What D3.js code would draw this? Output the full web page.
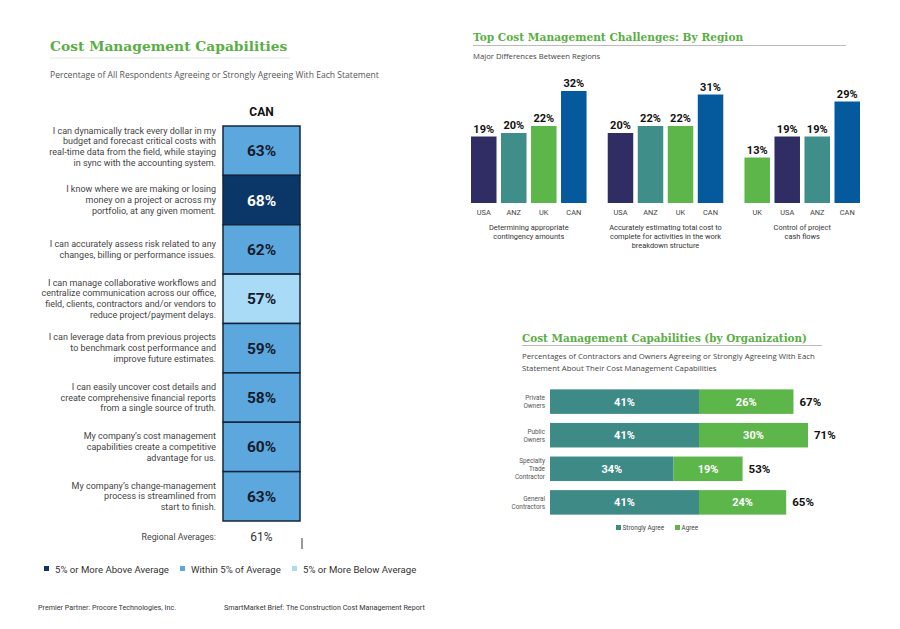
<!DOCTYPE html>
<html>
<head>
<meta charset="utf-8">
<script src="https://cdn.jsdelivr.net/npm/d3@7"></script>
<style>
  body { margin: 0; background: #fff; }
  svg { display: block; font-family: Roboto, "Open Sans", sans-serif; }
</style>
</head>
<body>
<svg id="chart" width="900" height="629"></svg>
<script>
// ---- data ----
var statements = [
  ["I can dynamically track every dollar in my", "budget and forecast critical costs with", "real-time data from the field, while staying", "in sync with the accounting system."],
  ["I know where we are making or losing", "money on a project or across my", "portfolio, at any given moment."],
  ["I can accurately assess risk related to any", "changes, billing or performance issues."],
  ["I can manage collaborative workflows and", "centralize communication across our office,", "field, clients, contractors and/or vendors to", "reduce project/payment delays."],
  ["I can leverage data from previous projects", "to benchmark cost performance and", "improve future estimates."],
  ["I can easily uncover cost details and", "create comprehensive financial reports", "from a single source of truth."],
  ["My company\u2019s cost management", "capabilities create a competitive", "advantage for us."],
  ["My company\u2019s change-management", "process is streamlined from", "start to finish."]
];
var canValues = [63, 68, 62, 57, 59, 58, 60, 63];
var canAverage = 61;
var legendLabels = ["5% or More Above Average", "Within 5% of Average", "5% or More Below Average"];

var challengeNames = [
  ["Determining appropriate", "contingency amounts"],
  ["Accurately estimating total cost to", "complete for activities in the work", "breakdown structure"],
  ["Control of project", "cash flows"]
];
var challengeRegions = [
  ["USA", "ANZ", "UK", "CAN"],
  ["USA", "ANZ", "UK", "CAN"],
  ["UK", "USA", "ANZ", "CAN"]
];
var challengeValues = [
  [19, 20, 22, 32],
  [20, 22, 22, 31],
  [13, 19, 19, 29]
];

var orgNames = [["Private", "Owners"], ["Public", "Owners"], ["Specialty", "Trade", "Contractor"], ["General", "Contractors"]];
var stronglyAgree = [41, 41, 34, 41];
var agree = [26, 30, 19, 24];
var orgSeries = ["Strongly Agree", "Agree"];

// ---- colours ----
var green = "#5aae45";
var regionColor = { USA: "#2f2d63", ANZ: "#3f8e8a", UK: "#5db64a", CAN: "#045a9c" };
var cellColor = { above: "#0b3768", within: "#5ca8de", below: "#a9daf6" };

var svg = d3.select("#chart");

function multiline(sel, lines, x, y, lh) {
  lines.forEach(function (l, i) {
    sel.append("tspan").attr("x", x).attr("y", y + i * lh).text(l);
  });
}

// ================= LEFT: capabilities table =================
svg.append("text").attr("x", 50).attr("y", 51)
  .style("font-family", "'DejaVu Serif', serif").style("font-weight", "bold")
  .style("font-size", "13.8px").style("fill", green)
  .text("Cost Management Capabilities");
svg.append("line").attr("x1", 50).attr("x2", 290).attr("y1", 58).attr("y2", 58)
  .style("stroke", "#ddd").style("stroke-width", 0.8);
svg.append("text").attr("x", 50).attr("y", 78)
  .style("font-family", "'Open Sans', sans-serif")
  .style("font-size", "8.6px").style("fill", "#555")
  .text("Percentage of All Respondents Agreeing or Strongly Agreeing With Each Statement");

var y = d3.scaleBand().domain(d3.range(canValues.length)).range([126, 521]);
var cellX = 223, cellW = 77;

svg.append("text").attr("x", cellX + cellW / 2).attr("y", 116)
  .attr("text-anchor", "middle").style("font-weight", "bold")
  .style("font-size", "12px").style("fill", "#111").text("CAN");

function level(v) {
  var r = v / canAverage;
  if (r >= 1.05) return "above";
  if (r <= 0.95) return "below";
  return "within";
}

var rows = svg.append("g").selectAll("g").data(canValues).enter().append("g");
rows.append("rect")
  .attr("x", cellX).attr("y", function (d, i) { return y(i); })
  .attr("width", cellW).attr("height", y.bandwidth())
  .style("fill", function (d) { return cellColor[level(d)]; })
  .style("stroke", "#13263d").style("stroke-width", 1.5);
rows.append("text")
  .attr("x", cellX + cellW / 2).attr("y", function (d, i) { return y(i) + y.bandwidth() / 2 + 5.5; })
  .attr("text-anchor", "middle").style("font-weight", "bold").style("font-size", "15.5px")
  .style("fill", function (d) { return level(d) === "above" ? "#fff" : "#151b2b"; })
  .text(function (d) { return d + "%"; });
rows.append("text")
  .attr("text-anchor", "end").style("font-size", "9px").style("fill", "#444")
  .each(function (d, i) {
    var lines = statements[i];
    var lh = 10.7;
    var y0 = y(i) + y.bandwidth() / 2 - (lines.length - 1) * lh / 2 + 3;
    if (i === 0) y0 -= 4;
    multiline(d3.select(this), lines, 216, y0, lh);
  });

svg.append("text").attr("x", 216).attr("y", 540).attr("text-anchor", "end")
  .style("font-size", "8.8px").style("fill", "#444").text("Regional Averages:");
svg.append("text").attr("x", cellX + cellW / 2).attr("y", 541).attr("text-anchor", "middle")
  .style("font-size", "12px").style("fill", "#333").text(canAverage + "%");
svg.append("line").attr("x1", 302).attr("x2", 302).attr("y1", 538).attr("y2", 549)
  .style("stroke", "#333").style("stroke-width", 1);

var legX = [44, 180, 292];
var lg = svg.append("g").selectAll("g").data(legendLabels).enter().append("g")
  .attr("transform", function (d, i) { return "translate(" + legX[i] + ",569)"; });
lg.append("rect").attr("x", 0).attr("y", -3).attr("width", 5).attr("height", 5)
  .style("fill", function (d, i) { return cellColor[["above", "within", "below"][i]]; });
lg.append("text").attr("x", 11).attr("y", 3.5).style("font-size", "9.6px").style("fill", "#333")
  .text(function (d) { return d; });

svg.append("text").attr("x", 38).attr("y", 610).style("font-size", "7.2px").style("fill", "#333")
  .text("Premier Partner: Procore Technologies, Inc.");
svg.append("text").attr("x", 224).attr("y", 610).style("font-size", "7.2px").style("fill", "#333")
  .text("SmartMarket Brief: The Construction Cost Management Report");

// ================= TOP RIGHT: challenges by region =================
svg.append("text").attr("x", 473).attr("y", 41)
  .style("font-family", "'DejaVu Serif', serif").style("font-weight", "bold")
  .style("font-size", "10.6px").style("fill", green)
  .text("Top Cost Management Challenges: By Region");
svg.append("line").attr("x1", 473).attr("x2", 846).attr("y1", 45.5).attr("y2", 45.5)
  .style("stroke", "#aaa").style("stroke-width", 0.8);
svg.append("text").attr("x", 473).attr("y", 59)
  .style("font-family", "'Open Sans', sans-serif").style("font-size", "7.7px").style("fill", "#444")
  .text("Major Differences Between Regions");

var gx = d3.scaleBand().domain(d3.range(challengeValues.length)).range([471, 860]).paddingInner(0.155);
var bx = d3.scaleBand().domain(d3.range(4)).range([0, gx.bandwidth()]).paddingInner(0.15);
var vy = d3.scaleLinear().domain([0, 32]).range([203, 91]);

var groups = svg.append("g").selectAll("g").data(challengeValues).enter().append("g")
  .attr("transform", function (d, i) { return "translate(" + gx(i) + ",0)"; });
groups.each(function (vals, gi) {
  var g = d3.select(this);
  g.selectAll("rect").data(vals).enter().append("rect")
    .attr("x", function (d, i) { return bx(i); })
    .attr("y", function (d) { return vy(d); })
    .attr("width", bx.bandwidth())
    .attr("height", function (d) { return vy(0) - vy(d); })
    .style("fill", function (d, i) { return regionColor[challengeRegions[gi][i]]; });
  g.selectAll("text.val").data(vals).enter().append("text").attr("class", "val")
    .attr("x", function (d, i) { return bx(i) + bx.bandwidth() / 2; })
    .attr("y", function (d) { return vy(d) - 4; })
    .attr("text-anchor", "middle").style("font-weight", "bold").style("font-size", "11px")
    .style("fill", "#111").text(function (d) { return d + "%"; });
  g.selectAll("text.cat").data(challengeRegions[gi]).enter().append("text").attr("class", "cat")
    .attr("x", function (d, i) { return bx(i) + bx.bandwidth() / 2; })
    .attr("y", 214.5).attr("text-anchor", "middle").style("font-size", "7.4px").style("fill", "#444")
    .text(function (d) { return d; });
  var cap = g.append("text").attr("text-anchor", "middle").style("font-size", "7.4px").style("fill", "#333");
  multiline(cap, challengeNames[gi], gx.bandwidth() / 2, 229.5, 9);
});

// ================= BOTTOM RIGHT: by organization =================
svg.append("text").attr("x", 522).attr("y", 342)
  .style("font-family", "'DejaVu Serif', serif").style("font-weight", "bold")
  .style("font-size", "10.4px").style("fill", green)
  .text("Cost Management Capabilities (by Organization)");
svg.append("line").attr("x1", 522).attr("x2", 822).attr("y1", 345.5).attr("y2", 345.5)
  .style("stroke", "#aaa").style("stroke-width", 0.8);
var sub = svg.append("text").style("font-family", "'Open Sans', sans-serif")
  .style("font-size", "7.8px").style("fill", "#444");
multiline(sub, ["Percentages of Contractors and Owners Agreeing or Strongly Agreeing With Each",
  "Statement About Their Cost Management Capabilities"], 522, 359, 11.5);

var ox = d3.scaleLinear().domain([0, 71]).range([550, 808]);
var oy = d3.scaleBand().domain(d3.range(orgNames.length)).range([386, 518]).paddingInner(0.27).paddingOuter(0.1);
var stack = d3.stack().keys([0, 1])(orgNames.map(function (n, i) { return [stronglyAgree[i], agree[i]]; }));
var orgColor = ["#3d8a86", "#5db64a"];

stack.forEach(function (layer, li) {
  var g = svg.append("g");
  g.selectAll("rect").data(layer).enter().append("rect")
    .attr("x", function (d) { return ox(d[0]); })
    .attr("y", function (d, i) { return oy(i); })
    .attr("width", function (d) { return ox(d[1]) - ox(d[0]); })
    .attr("height", oy.bandwidth())
    .style("fill", orgColor[li]);
  g.selectAll("text").data(layer).enter().append("text")
    .attr("x", function (d) { return (ox(d[0]) + ox(d[1])) / 2; })
    .attr("y", function (d, i) { return oy(i) + oy.bandwidth() / 2 + 4; })
    .attr("text-anchor", "middle").style("font-weight", "bold").style("font-size", "11px")
    .style("fill", "#fff").text(function (d) { return (d[1] - d[0]) + "%"; });
});
svg.append("g").selectAll("text").data(stack[1]).enter().append("text")
  .attr("x", function (d) { return ox(d[1]) + 6; })
  .attr("y", function (d, i) { return oy(i) + oy.bandwidth() / 2 + 4; })
  .style("font-weight", "bold").style("font-size", "11.5px").style("fill", "#111")
  .text(function (d) { return d[1] + "%"; });
svg.append("g").selectAll("text").data(orgNames).enter().append("text")
  .attr("text-anchor", "end").style("font-size", "6.4px").style("fill", "#555")
  .each(function (d, i) {
    var lh = 8;
    var y0 = oy(i) + oy.bandwidth() / 2 - (d.length - 1) * lh / 2 + 2.3;
    multiline(d3.select(this), d, 545, y0, lh);
  });

var olx = [616, 675];
var ol = svg.append("g").selectAll("g").data(orgSeries).enter().append("g")
  .attr("transform", function (d, i) { return "translate(" + olx[i] + ",528)"; });
ol.append("rect").attr("x", 0).attr("y", -3).attr("width", 5).attr("height", 5)
  .style("fill", function (d, i) { return orgColor[i]; });
ol.append("text").attr("x", 6.5).attr("y", 2).style("font-size", "6.4px").style("fill", "#444")
  .text(function (d) { return d; });
</script>
</body>
</html>
